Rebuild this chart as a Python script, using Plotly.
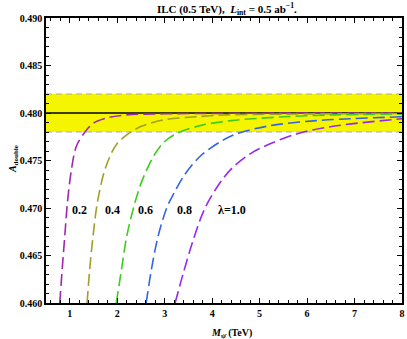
import plotly.graph_objects as go

# ---- data ----
lambdas = ["0.2", "0.4", "0.6", "0.8", "1.0"]
colors = ["rgb(160,40,175)", "rgb(160,160,40)", "rgb(60,205,30)", "rgb(50,100,230)", "rgb(150,40,240)"]

m_02 = [0.79, 0.84, 0.895, 0.95, 1.035, 1.14, 1.32, 1.49, 1.80, 2.2, 3.0, 4.5, 8.0]
a_02 = [0.4600, 0.4635, 0.4670, 0.4705, 0.4740, 0.4765, 0.4780, 0.4789, 0.4795, 0.4798, 0.47992, 0.47997, 0.4800]

m_04 = [1.365, 1.42, 1.49, 1.58, 1.72, 1.88, 2.0, 2.23, 2.51, 3.0, 3.66, 4.3, 5.5, 8.0]
a_04 = [0.4600, 0.4635, 0.4670, 0.4705, 0.4737, 0.4758, 0.4768, 0.4778, 0.4786, 0.4793, 0.4796, 0.4798, 0.47988, 0.47995]

m_06 = [1.98, 2.09, 2.20, 2.37, 2.51, 2.76, 3.0, 3.28, 3.77, 4.40, 5.5, 6.55, 8.0]
a_06 = [0.4600, 0.4635, 0.4670, 0.4705, 0.4727, 0.4754, 0.4770, 0.4779, 0.4787, 0.4792, 0.4796, 0.4798, 0.4799]

m_08 = [2.61, 2.72, 2.86, 3.05, 3.20, 3.42, 3.76, 4.18, 4.51, 5.15, 6.2, 8.0]
a_08 = [0.4600, 0.4635, 0.4670, 0.4701, 0.4716, 0.4735, 0.4755, 0.4770, 0.4778, 0.4786, 0.4792, 0.4796]

m_10 = [3.22, 3.39, 3.60, 3.85, 4.2, 4.44, 4.8, 5.15, 5.78, 6.55, 8.0]
a_10 = [0.4600, 0.4631, 0.4666, 0.4700, 0.4729, 0.4743, 0.4757, 0.4766, 0.4778, 0.4786, 0.4794]

sm_value = 0.480
band_low, band_high = 0.478, 0.482

label_x = [1.2, 1.9, 2.6, 3.41, 4.41]
label_y = [0.4698, 0.4698, 0.4698, 0.4698, 0.4698]
label_text = ["0.2", "0.4", "0.6", "0.8", "λ=1.0"]

x_range = [0.5, 8.0]
y_range = [0.460, 0.490]
x_ticks = [1, 2, 3, 4, 5, 6, 7, 8]
y_ticks = [0.460, 0.465, 0.470, 0.475, 0.480, 0.485, 0.490]

curves_m = [m_02, m_04, m_06, m_08, m_10]
curves_a = [a_02, a_04, a_06, a_08, a_10]

FONT = "Liberation Serif"

fig = go.Figure()

for lam, col, mm, aa in zip(lambdas, colors, curves_m, curves_a):
    fig.add_trace(go.Scatter(
        x=mm, y=aa, mode="lines", name=lam,
        line=dict(color=col, width=1.6, dash="12px,5px", shape="spline", smoothing=0.9),
        showlegend=False, hoverinfo="skip", cliponaxis=True))

# band and SM line
fig.add_shape(type="rect", xref="x domain", yref="y", x0=0, x1=1, y0=band_low, y1=band_high,
              fillcolor="rgb(245,245,0)", line=dict(width=0), layer="below")
for yv in (band_low, band_high):
    fig.add_shape(type="line", xref="x domain", yref="y", x0=0, x1=1, y0=yv, y1=yv,
                  line=dict(color="rgb(170,170,170)", width=1.2, dash="6px,4px"), layer="below")
fig.add_shape(type="line", xref="x domain", yref="y", x0=0, x1=1, y0=sm_value, y1=sm_value,
              line=dict(color="black", width=1.5), layer="below")

for lx, ly, lt in zip(label_x, label_y, label_text):
    fig.add_annotation(x=lx, y=ly, text="<b>%s</b>" % lt, showarrow=False,
                       font=dict(family=FONT, size=12, color="black"))

# axis titles
fig.add_annotation(xref="paper", yref="paper", x=0.522, y=0, yanchor="middle", yshift=-30,
                   text="<b><i>M</i><sub>ψ̄</sub> (TeV)</b>", showarrow=False,
                   font=dict(family=FONT, size=10, color="black"))
fig.add_annotation(xref="paper", yref="paper", x=0, y=0.505, xanchor="center", xshift=-33,
                   textangle=-90, text="<b><i>A</i><sub>double</sub></b>", showarrow=False,
                   font=dict(family=FONT, size=10, color="black"))

axis_common = dict(showline=True, linecolor="black", linewidth=1.5, mirror="allticks",
                   ticks="inside", tickcolor="black", tickwidth=1.2, showgrid=False,
                   zeroline=False, automargin=False)

fig.update_xaxes(range=x_range, tickvals=x_ticks, ticklen=5,
                 tickfont=dict(family=FONT, size=10, color="black", weight="bold"),
                 minor=dict(ticks="inside", dtick=0.2, tick0=0, ticklen=3, tickcolor="black", tickwidth=1),
                 **axis_common)
fig.update_yaxes(range=y_range, tickvals=y_ticks, tickformat=".3f", ticklen=5,
                 tickfont=dict(family=FONT, size=10, color="black", weight="bold"),
                 minor=dict(ticks="inside", dtick=0.001, tick0=0.46, ticklen=3, tickcolor="black", tickwidth=1),
                 **axis_common)

fig.update_layout(
    width=407, height=339,
    margin=dict(l=46, r=5, t=18, b=36),
    paper_bgcolor="white", plot_bgcolor="white",
    title=dict(text="<b>ILC (0.5 TeV),  <i>L</i><sub>int</sub> = 0.5 ab<sup>−1</sup>.</b>",
               xref="paper", x=0.508, xanchor="center", y=0.985, yanchor="top",
               font=dict(family=FONT, size=11, color="black")),
)

fig.write_html("out.html", config={"displayModeBar": False},
               post_script="document.body.style.margin='0';document.body.style.overflow='hidden';")
